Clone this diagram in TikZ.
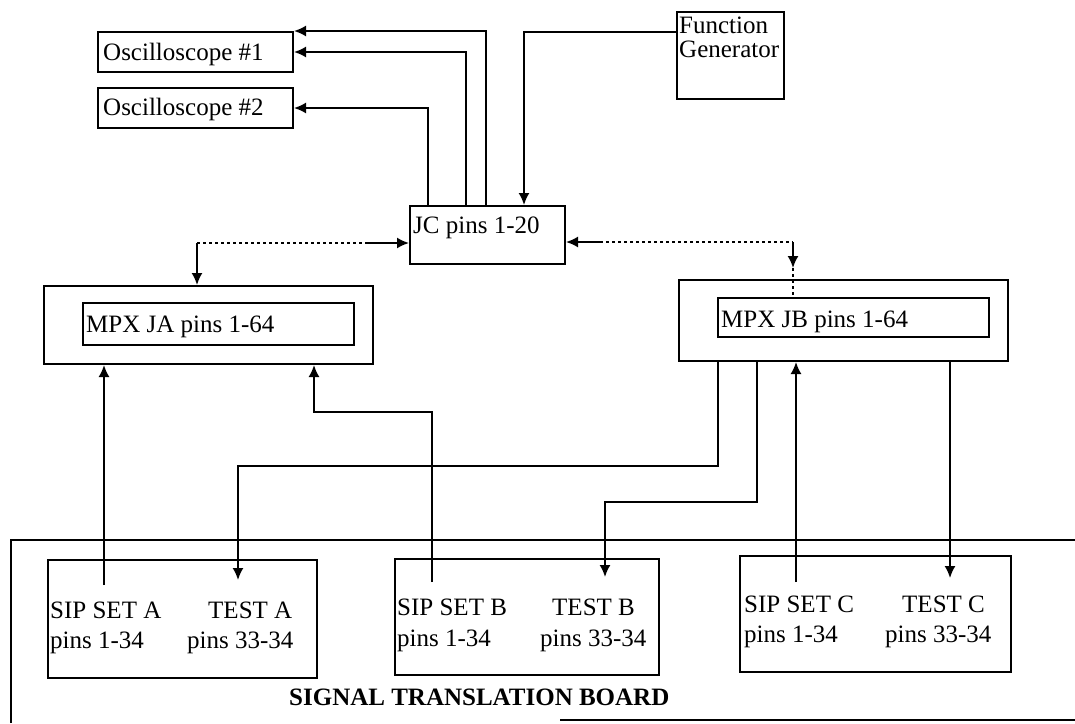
\documentclass[tikz,border=0pt]{standalone}
\usepackage{fontspec}
\setmainfont{Liberation Serif}
\usetikzlibrary{arrows.meta}
\newcommand\lblfont{\fontsize{25}{30}\selectfont}
\begin{document}
\begin{tikzpicture}[x=1pt,y=-1pt,
  box/.style={draw, line width=2pt, rectangle, inner sep=0pt, anchor=north west},
  wire/.style={line width=1.8pt},
  arr/.style={-{Latex[length=12pt,width=11pt]}},
  dot/.style={line width=1.6pt, dash pattern=on 3pt off 3pt},
  lbl/.style={inner sep=0pt, anchor=base west, font=\lblfont},
]
\useasboundingbox (0,0) rectangle (1075,723);

% boxes
\node[box, minimum width=195pt, minimum height=40pt] (osc1) at (97,31) {};
\node[box, minimum width=195pt, minimum height=40pt] (osc2) at (97,87) {};
\node[box, minimum width=107pt, minimum height=87pt] (fg) at (676,11) {};
\node[box, minimum width=155pt, minimum height=58pt] (jc) at (409,205) {};
\node[box, minimum width=329pt, minimum height=78pt] (ja) at (43,285) {};
\node[box, minimum width=271pt, minimum height=42pt] (jain) at (82,302) {};
\node[box, minimum width=329pt, minimum height=81pt] (jb) at (678,279) {};
\node[box, minimum width=271pt, minimum height=39pt] (jbin) at (717,297) {};
\node[box, minimum width=269pt, minimum height=118pt] (sa) at (47,559) {};
\node[box, minimum width=264pt, minimum height=116pt] (sb) at (394,558) {};
\node[box, minimum width=271pt, minimum height=116pt] (sc) at (739,555) {};

% texts
\node[lbl] (t1) at (103,60) {Oscilloscope \#1};
\node[lbl] (t2) at (103,115) {Oscilloscope \#2};
\node[lbl] (t3) at (679,33) {Function};
\node[lbl] (t4) at (679,57) {Generator};
\node[lbl] (t5) at (413,233) {JC pins 1-20};
\node[lbl] (t6) at (86,332) {MPX JA pins 1-64};
\node[lbl] (t7) at (721,327) {MPX JB pins 1-64};
\node[lbl] (a1) at (50,618) {SIP SET A};
\node[lbl] (a2) at (50,648) {pins 1-34};
\node[lbl] (a3) at (208,618) {TEST A};
\node[lbl] (a4) at (187,648) {pins 33-34};
\node[lbl] (b1) at (397,615) {SIP SET B};
\node[lbl] (b2) at (397,646) {pins 1-34};
\node[lbl] (b3) at (552,615) {TEST B};
\node[lbl] (b4) at (540,646) {pins 33-34};
\node[lbl] (c1) at (744,612) {SIP SET C};
\node[lbl] (c2) at (744,642) {pins 1-34};
\node[lbl] (c3) at (902,612) {TEST C};
\node[lbl] (c4) at (885,642) {pins 33-34};
\node[lbl, font=\lblfont\bfseries] (stb) at (289,705) {SIGNAL TRANSLATION BOARD};

% signal translation board outline
\draw[wire] (11,723) -- (11,540) -- (1075,540);
\draw[wire] (560,720) -- (1075,720);

% JC to oscilloscopes and function generator
\draw[wire,arr] ([xshift=77pt]jc.north west) |- (osc1.north east);
\draw[wire,arr] ([xshift=57pt]jc.north west) |- (osc1.east);
\draw[wire,arr] ([xshift=19pt]jc.north west) |- (osc2.east);
\draw[wire,arr] ([yshift=-21pt]fg.north west) -| ([xshift=115pt]jc.north west);

% dotted links JC <-> MPX
\coordinate (dl) at (197,243);
\coordinate (dls) at (368,243);
\draw[wire,arr] (dl) -- (dl |- ja.north);
\draw[dot] (dl) -- (dls);
\draw[wire,arr] (dls) -- (dls -| jc.west);
\coordinate (drs) at (600,242);
\coordinate (dr) at (793,242);
\coordinate (drt) at (793,268);
\draw[wire,arr] (drs) -- (drs -| jc.east);
\draw[dot] (drs) -- (dr);
\draw[wire,arr] (dr) -- (drt);
\draw[dot] (drt) -- (drt |- jbin.north);

% SIP / TEST connections
\coordinate (sipA) at (104,585);
\coordinate (sipB) at (432,582);
\coordinate (sipC) at (796,582);
\coordinate (testA) at (238,580);
\coordinate (testB) at (605,577);
\coordinate (testC) at (950,578);
\coordinate (bendB) at (314,412);
\coordinate (jbA) at (718,466);
\coordinate (jbB) at (757,502);

\draw[wire,arr] (sipA) -- (sipA |- ja.south);
\draw[wire,arr] (sipB) |- (bendB) -- (bendB |- ja.south);
\draw[wire,arr] (jbA |- jb.south) -- (jbA) -| (testA);
\draw[wire,arr] (jbB |- jb.south) -- (jbB) -| (testB);
\draw[wire,arr] (sipC) -- (sipC |- jb.south);
\draw[wire,arr] (testC |- jb.south) -- (testC);
\end{tikzpicture}
\end{document}
